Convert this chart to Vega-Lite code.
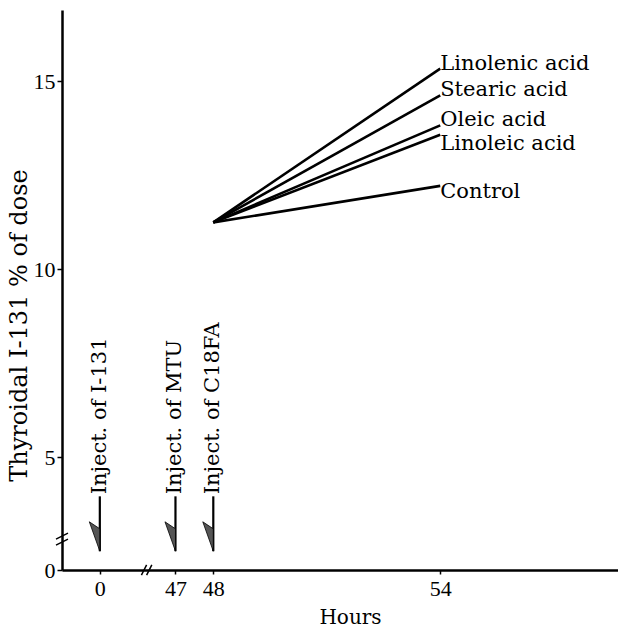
{
  "$schema": "https://vega.github.io/schema/vega-lite/v6.json",
  "autosize": {"type": "none"},
  "padding": {"left": 62, "top": 10, "right": 0, "bottom": 57},
  "width": 556,
  "height": 560,
  "background": "white",
  "datasets": {
    "lines": [
      {"series": "Linolenic acid", "hours": 48, "value": 11.25},
      {"series": "Linolenic acid", "hours": 54, "value": 15.34},
      {"series": "Stearic acid", "hours": 48, "value": 11.25},
      {"series": "Stearic acid", "hours": 54, "value": 14.63},
      {"series": "Oleic acid", "hours": 48, "value": 11.25},
      {"series": "Oleic acid", "hours": 54, "value": 13.83},
      {"series": "Linoleic acid", "hours": 48, "value": 11.25},
      {"series": "Linoleic acid", "hours": 54, "value": 13.58},
      {"series": "Control", "hours": 48, "value": 11.25},
      {"series": "Control", "hours": 54, "value": 12.22}
    ],
    "labels": [
      {"label": "Linolenic acid", "hours": 54, "value": 15.47},
      {"label": "Stearic acid", "hours": 54, "value": 14.78},
      {"label": "Oleic acid", "hours": 54, "value": 13.96},
      {"label": "Linoleic acid", "hours": 54, "value": 13.34},
      {"label": "Control", "hours": 54, "value": 12.06}
    ],
    "events": [
      {"event": "Inject. of I-131", "axis_pos": 45, "arrow_top": 3.96, "arrow_tip": 2.5},
      {"event": "Inject. of MTU", "axis_pos": 47, "arrow_top": 3.96, "arrow_tip": 2.5},
      {"event": "Inject. of C18FA", "axis_pos": 48, "arrow_top": 3.96, "arrow_tip": 2.5}
    ]
  },
  "layer": [
    {
      "data": {"name": "lines"},
      "mark": {"type": "line", "color": "black", "strokeWidth": 2.6},
      "encoding": {
        "x": {
          "field": "hours", "type": "quantitative",
          "scale": {"domain": [44, 58.7], "nice": false, "zero": false},
          "axis": {
            "values": [45, 47, 48, 54],
            "labelExpr": "datum.value == 45 ? '0' : datum.label",
            "tickSize": 4, "labelPadding": 4,
            "labelFont": "Liberation Serif", "labelFontSize": 22,
            "labelOverlap": false, "labelFlush": false,
            "title": "Hours", "titleFont": "DejaVu Serif", "titleFontSize": 20,
            "titleX": 288, "titleY": 37, "titleBaseline": "top", "titleAlign": "center"
          }
        },
        "y": {
          "field": "value", "type": "quantitative",
          "scale": {"domain": [2, 16.9], "nice": false, "zero": false},
          "axis": {
            "values": [2, 5, 10, 15],
            "labelExpr": "datum.value == 2 ? '0' : datum.label",
            "tickSize": 5, "labelPadding": 2,
            "labelFont": "Liberation Serif", "labelFontSize": 22,
            "labelOverlap": false,
            "title": "Thyroidal I-131 % of dose", "titleFont": "DejaVu Serif", "titleFontSize": 24,
            "titleX": -43, "titleY": 315, "titleAngle": 270, "titleAlign": "center", "titleBaseline": "middle"
          }
        },
        "detail": {"field": "series"}
      }
    },
    {
      "data": {"name": "labels"},
      "mark": {"type": "text", "align": "left", "baseline": "middle", "dx": 0, "font": "DejaVu Serif", "fontSize": 21, "color": "black"},
      "encoding": {
        "x": {"field": "hours", "type": "quantitative"},
        "y": {"field": "value", "type": "quantitative"},
        "text": {"field": "label"}
      }
    },
    {
      "data": {"name": "events"},
      "mark": {"type": "text", "angle": 270, "align": "left", "baseline": "middle", "dx": 2, "font": "DejaVu Serif", "fontSize": 21, "color": "black"},
      "encoding": {
        "x": {"field": "axis_pos", "type": "quantitative"},
        "y": {"field": "arrow_top", "type": "quantitative"},
        "text": {"field": "event"}
      }
    },
    {
      "data": {"name": "events"},
      "mark": {"type": "rule", "color": "black", "strokeWidth": 2.2},
      "encoding": {
        "x": {"field": "axis_pos", "type": "quantitative"},
        "y": {"field": "arrow_top", "type": "quantitative"},
        "y2": {"field": "arrow_tip"}
      }
    },
    {
      "data": {"name": "events"},
      "mark": {"type": "point", "shape": "M0,0L-0.75,-2.1L0,-1.6Z", "size": 784, "filled": true, "color": "#555555", "stroke": "black", "strokeWidth": 0.8, "opacity": 1},
      "encoding": {
        "x": {"field": "axis_pos", "type": "quantitative"},
        "y": {"field": "arrow_tip", "type": "quantitative"}
      }
    },
    {
      "data": {"values": [{"axis_pos": 46.26, "value": 2}]},
      "mark": {"type": "point", "shape": "M-0.7,0.6L-0.1,-0.6M-0.1,0.6L0.5,-0.6", "size": 300, "filled": false, "color": "black", "strokeWidth": 1.5, "opacity": 1},
      "encoding": {
        "x": {"field": "axis_pos", "type": "quantitative"},
        "y": {"field": "value", "type": "quantitative"}
      }
    },
    {
      "data": {"values": [{"axis_pos": 44, "value": 2.82}]},
      "mark": {"type": "point", "shape": "M-0.6,0L0.6,-0.6M-0.6,0.6L0.6,0", "size": 400, "filled": false, "color": "black", "strokeWidth": 1.5, "opacity": 1},
      "encoding": {
        "x": {"field": "axis_pos", "type": "quantitative"},
        "y": {"field": "value", "type": "quantitative"}
      }
    }
  ],
  "config": {
    "view": {"stroke": null},
    "axis": {
      "grid": false,
      "domainColor": "black", "domainWidth": 2.5,
      "tickColor": "black", "tickWidth": 1.5,
      "labelColor": "black", "titleColor": "black", "titleFontWeight": "normal"
    }
  }
}
